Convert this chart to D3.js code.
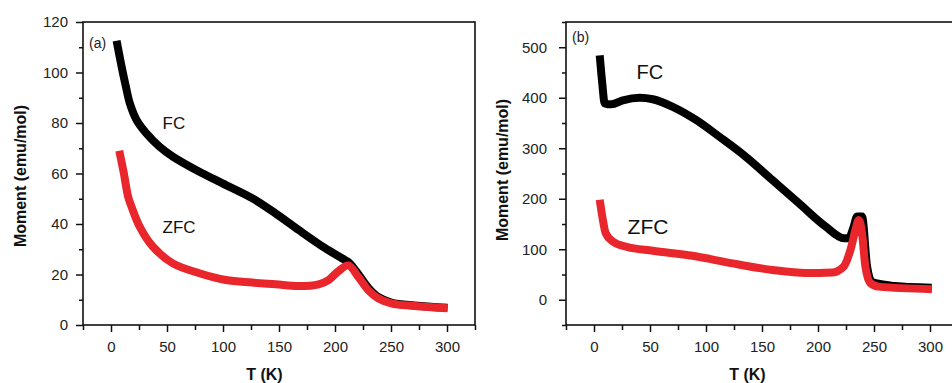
<!DOCTYPE html>
<html>
<head>
<meta charset="utf-8">
<script src="https://cdn.jsdelivr.net/npm/d3@7"></script>
<style>
  body { margin: 0; background: #fff; }
  svg { display: block; font-family: "Liberation Sans", Arial, sans-serif; }
</style>
</head>
<body>
<svg id="chart" width="952" height="383"></svg>
<script>
// panel (a), [T (K), Moment (emu/mol)]
const fcA = [[5,112.6],[9.5,102.3],[13.3,94.4],[16.8,87.8],[22.8,81.2],[31.6,75.9],[43.4,70.6],[55.2,66.7],
  [78.9,60.7],[99.6,56.1],[126.2,50.2],[146.9,44.2],[167.6,37.6],[191.2,30.4],[209,25.7],[213,24.5],
  [220.7,20.2],[229.6,14.8],[238.5,11.1],[250.3,8.9],[271,7.7],[300.5,6.8]];
const zfcA = [[7.4,69],[11.5,60],[15.3,50.8],[18.3,46.9],[25.7,38.9],[37.5,31],[55.2,24.4],[78.9,20.5],
  [102.6,17.8],[126.2,16.8],[146.9,16.1],[167.6,15.4],[185.3,16.1],[194.2,17.8],[203,21.3],[211.9,23.6],
  [220.7,19.1],[229.6,13.9],[238.5,10.6],[250.3,8.6],[271,7.5],[300.5,6.6]];

// panel (b)
const fcB = [[5.1,484],[7.4,428],[9.5,389],[15.5,387],[25.8,395],[40.7,400],[52.5,397],[70.3,382],
  [91.1,356],[111.8,323],[135.6,283],[159.3,237],[183,191],[206.8,145],[223,122],[227.5,122],
  [231.9,145],[234.9,165],[239.3,165],[243.8,66],[248.2,35],[265,28],[301.6,24]];
const zfcB = [[5.1,198],[7.4,165],[10.4,132],[17,115],[28.8,105],[52.5,97],[88,87],[123.7,72],
  [159.3,59],[189,53],[212.6,54],[223,66],[229,99],[233.4,138],[236.4,158],[239.3,132],
  [242.3,66],[246.8,33],[254.2,26],[301.6,21]];

const xMajor = [0, 50, 100, 150, 200, 250, 300];
const xMinor = [-25, 25, 75, 125, 175, 225, 275, 325];
const yMajorA = [0, 20, 40, 60, 80, 100, 120];
const yMinorA = [10, 30, 50, 70, 90, 110];
const yMajorB = [0, 100, 200, 300, 400, 500];
const yMinorB = [-50, 50, 150, 250, 350, 450, 550];

const svg = d3.select("#chart");
const red = "#e8262b";

function panel(opt) {
  const x = d3.scaleLinear().domain([-25, 325]).range([opt.left, opt.left + 392]);
  const y = d3.scaleLinear().domain(opt.yDomain).range([325, 22]);
  const g = svg.append("g");

  const line = d3.line()
    .x(d => x(d[0]))
    .y(d => y(d[1]))
    .curve(opt.curve);

  g.append("path").datum(opt.fc)
    .attr("d", line).attr("fill", "none").attr("stroke", "#000")
    .attr("stroke-width", 8).attr("stroke-linejoin", "round");
  g.append("path").datum(opt.zfc)
    .attr("d", line).attr("fill", "none").attr("stroke", red)
    .attr("stroke-width", 8).attr("stroke-linejoin", "round");

  // frame
  g.append("rect")
    .attr("x", x(-25)).attr("y", 22)
    .attr("width", x(325) - x(-25)).attr("height", 303)
    .attr("fill", "none").attr("stroke", "#111").attr("stroke-width", 1.6);

  // axes
  g.append("g").attr("transform", "translate(0,325)")
    .call(d3.axisBottom(x).tickValues(xMajor).tickSize(7).tickPadding(9).tickFormat(d3.format("d")));
  g.append("g").attr("transform", "translate(0,325)")
    .call(d3.axisBottom(x).tickValues(xMinor).tickSize(5).tickFormat(""));
  g.append("g").attr("transform", `translate(${opt.left},0)`)
    .call(d3.axisLeft(y).tickValues(opt.yMajor).tickSize(7).tickPadding(opt.yPad).tickFormat(d3.format("d")));
  g.append("g").attr("transform", `translate(${opt.left},0)`)
    .call(d3.axisLeft(y).tickValues(opt.yMinor).tickSize(4).tickFormat(""));

  g.selectAll(".domain").remove();
  g.selectAll(".tick line").attr("stroke", "#111").attr("stroke-width", 1.5);
  g.selectAll(".tick text").attr("font-size", 15).attr("fill", "#222")
    .attr("font-family", "Liberation Sans, Arial, sans-serif");

  // titles
  g.append("text")
    .attr("x", x(137)).attr("y", 380)
    .attr("text-anchor", "middle").attr("font-size", 16).attr("font-weight", "bold").attr("fill", "#111")
    .text("T (K)");
  g.append("text")
    .attr("transform", `translate(${opt.titleX},${opt.titleY}) rotate(-90)`)
    .attr("text-anchor", "middle").attr("font-size", 16).attr("font-weight", "bold").attr("fill", "#111")
    .text("Moment (emu/mol)");

  // labels
  g.append("text").attr("x", opt.left + 6).attr("y", opt.tagY)
    .attr("font-size", 14).attr("fill", "#222").text(opt.tag);
  opt.labels.forEach(l => {
    g.append("text").attr("x", x(l.t)).attr("y", y(l.m))
      .attr("font-size", l.size).attr("fill", "#111").text(l.text);
  });
}

panel({
  left: 83, yDomain: [0, 120], yMajor: yMajorA, yMinor: yMinorA, yPad: 8,
  curve: d3.curveCatmullRom.alpha(0.5),
  fc: fcA, zfc: zfcA, tag: "(a)", tagY: 48, titleX: 26, titleY: 176,
  labels: [{ text: "FC", t: 46, m: 77.5, size: 17 }, { text: "ZFC", t: 46, m: 36.5, size: 17 }]
});

panel({
  left: 566, yDomain: [-50, 550], yMajor: yMajorB, yMinor: yMinorB, yPad: 12,
  curve: d3.curveMonotoneX,
  fc: fcB, zfc: zfcB, tag: "(b)", tagY: 42, titleX: 508, titleY: 170,
  labels: [{ text: "FC", t: 38, m: 437, size: 20 }, { text: "ZFC", t: 30, m: 130, size: 21 }]
});
</script>
</body>
</html>
